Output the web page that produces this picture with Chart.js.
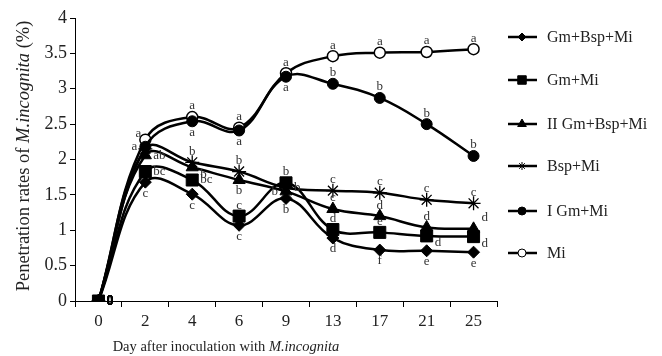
<!DOCTYPE html>
<html>
<head>
<meta charset="utf-8">
<script src="https://cdn.jsdelivr.net/npm/chart.js@4/dist/chart.umd.min.js"></script>
<style>
html,body{margin:0;padding:0;background:#fff;}
#wrap{width:662px;height:356px;position:relative;}
</style>
</head>
<body>
<div id="wrap"><canvas id="c" width="662" height="356"></canvas></div>
<script>
// ---- data ----
const days = ['0','2','4','6','9','13','17','21','25'];
const seriesNames = ['Gm+Bsp+Mi','Gm+Mi','II Gm+Bsp+Mi','Bsp+Mi','I Gm+Mi','Mi'];
const gmBspMi   = [0, 1.68, 1.51, 1.07, 1.45, 0.89, 0.72, 0.71, 0.69];
const gmMi      = [0, 1.83, 1.71, 1.20, 1.67, 1.01, 0.97, 0.92, 0.91];
const iiGmBspMi = [0, 2.06, 1.89, 1.71, 1.55, 1.30, 1.20, 1.04, 1.02];
const bspMi     = [0, 2.15, 1.96, 1.83, 1.60, 1.56, 1.53, 1.43, 1.38];
const iGmMi     = [0, 2.18, 2.54, 2.41, 3.17, 3.07, 2.87, 2.50, 2.05];
const mi        = [0, 2.28, 2.60, 2.45, 3.22, 3.46, 3.51, 3.52, 3.56];
const yTicks    = [0, 0.5, 1, 1.5, 2, 2.5, 3, 3.5, 4];
const yTickLabels = ['0','0.5','1','1.5','2','2.5','3','3.5','4'];
// significance letters
const lettersGmBspMi   = ['0','c','c','c','b','d','f','e','e'];
const lettersGmMi      = ['0','bc','bc','c','b','d','e','d','d'];
const lettersIIGmBspMi = ['0','ab','b','b','b','c','d','d','d'];
const lettersBspMi     = ['0','','b','b','b','c','c','c','c'];
const lettersIGmMi     = ['0','a','a','a','a','b','b','b','b'];
const lettersMi        = ['0','a','a','a','a','a','a','a','a'];

// ---- styling / placement (not data) ----
const placeGmBspMi   = ['r','b','b','b','b','b','b','b','b'];
const placeGmMi      = ['r','r','r','a','a','a','a','rb','rb'];
const placeIIGmBspMi = ['r','r','rb','b','l','a','a','a','ra'];
const placeBspMi     = ['r','a','a','a','r','a','a','a','a'];
const placeIGmMi     = ['r','l','b','b','b','a','a','a','a'];
const placeMi        = ['r','la','a','a','a','a','a','a','a'];

const SERIF = '"Liberation Serif","Times New Roman",serif';
const TXT = '#222';

function mk(label, data, style, radius, fill, letters, place, bw){
  return {
    label, data,
    borderColor:'#000', backgroundColor: fill,
    pointBorderColor:'#000', pointBackgroundColor: fill,
    pointStyle: style, pointRadius: radius, pointBorderWidth: bw,
    borderWidth: 2.5, tension: 0.4, fill:false,
    letters, place
  };
}
const datasets = [
  mk(seriesNames[0], gmBspMi, 'rectRot', 6, '#000', lettersGmBspMi, placeGmBspMi, 1),
  mk(seriesNames[1], gmMi, 'rect', 8.5, '#000', lettersGmMi, placeGmMi, 1),
  mk(seriesNames[2], iiGmBspMi, 'triangle', 7, '#000', lettersIIGmBspMi, placeIIGmBspMi, 1),
  mk(seriesNames[3], bspMi, 'star', 7, '#000', lettersBspMi, placeBspMi, 1.3),
  mk(seriesNames[4], iGmMi, 'circle', 5.5, '#000', lettersIGmMi, placeIGmMi, 1),
  mk(seriesNames[5], mi, 'circle', 5.5, '#fff', lettersMi, placeMi, 1.5)
];

function drawMixed(ctx, segs, size){
  let w = 0;
  segs.forEach(s=>{ ctx.font = (s.i?'italic ':'') + size + 'px ' + SERIF; s.w = ctx.measureText(s.t).width; w += s.w; });
  let x = -w/2;
  segs.forEach(s=>{ ctx.font = (s.i?'italic ':'') + size + 'px ' + SERIF; ctx.fillText(s.t, x, 0); x += s.w; });
}

const lettersPlugin = {
  id:'letters',
  afterDatasetsDraw(chart){
    const ctx = chart.ctx;
    ctx.save();
    ctx.textBaseline = 'middle';
    chart.data.datasets.forEach((ds, di)=>{
      const meta = chart.getDatasetMeta(di);
      meta.data.forEach((pt, i)=>{
        const t = ds.letters[i]; if(!t) return;
        const p = ds.place[i];
        let x = pt.x, y = pt.y, align='center';
        if(p==='a'){ y -= 11; }
        else if(p==='b'){ y += 11; }
        else if(p==='r'){ x += 8; align='left'; }
        else if(p==='l'){ x -= 8; align='right'; }
        else if(p==='rb'){ x += 8; y += 7; align='left'; }
        else if(p==='ra'){ x += 8; y -= 11; align='left'; }
        else if(p==='la'){ x -= 4; y -= 6; align='right'; }
        ctx.textAlign = align;
        if(t==='0'){ ctx.font = 'bold 14px ' + SERIF; ctx.fillStyle='#000'; }
        else { ctx.font = '13px ' + SERIF; ctx.fillStyle='#333'; }
        ctx.fillText(t, x, y);
      });
    });
    ctx.restore();
  }
};

const decorPlugin = {
  id:'decor',
  afterDraw(chart){
    const ctx = chart.ctx;
    ctx.save();
    ctx.fillStyle = TXT;
    ctx.textBaseline = 'middle';
    ctx.textAlign = 'left';
    // y title
    ctx.save();
    ctx.translate(24, 156);
    ctx.rotate(-Math.PI/2);
    drawMixed(ctx, [{t:'Penetration rates of ',i:false},{t:'M.incognita',i:true},{t:' (%)',i:false}], 18.5);
    ctx.restore();
    // x title
    ctx.save();
    ctx.translate(226, 347);
    drawMixed(ctx, [{t:'Day after inoculation with ',i:false},{t:'M.incognita',i:true}], 14.5);
    ctx.restore();
    // legend
    const rows = [37, 80, 124, 166, 211, 253];
    chart.data.datasets.forEach((ds, i)=>{
      const y = rows[i];
      ctx.strokeStyle = '#000';
      ctx.lineWidth = 2.5;
      ctx.beginPath(); ctx.moveTo(508, y); ctx.lineTo(537, y); ctx.stroke();
      ctx.fillStyle = ds.pointBackgroundColor;
      ctx.strokeStyle = '#000';
      ctx.lineWidth = 1;
      const r = ds.pointStyle==='rect' ? 6 : (ds.pointStyle==='triangle' ? 5 : 4);
      Chart.helpers.drawPoint(ctx, {pointStyle: ds.pointStyle, radius: r, rotation: 0, borderWidth: 1}, 522, y);
      ctx.fillStyle = TXT;
      ctx.font = '16px ' + SERIF;
      ctx.textAlign = 'left';
      ctx.fillText(ds.label, 547, y + 1);
    });
    ctx.restore();
  }
};

new Chart(document.getElementById('c'), {
  type:'line',
  data:{ labels: days, datasets },
  options:{
    responsive:false,
    animation:false,
    events:[],
    layout:{ padding:{ left:0, top:18, right:165, bottom:0 } },
    plugins:{ legend:{display:false}, tooltip:{enabled:false}, title:{display:false} },
    scales:{
      x:{
        type:'category',
        offset:true,
        grid:{ offset:true, drawOnChartArea:false, drawTicks:true, tickLength:6, color:'#000' },
        border:{ display:true, color:'#000', width:1 },
        ticks:{ color:TXT, font:{ family:SERIF, size:17 }, padding:4, maxRotation:0 },
        afterFit(s){ s.height = 55; }
      },
      y:{
        min:0, max:4,
        afterBuildTicks(s){ s.ticks = yTicks.map(v=>({value:v})); },
        grid:{ drawOnChartArea:false, drawTicks:true, tickLength:5, color:'#000' },
        border:{ display:true, color:'#000', width:1 },
        ticks:{ color:TXT, font:{ family:SERIF, size:18 }, padding:3,
          callback(v){ const k = yTicks.indexOf(v); return k>=0 ? yTickLabels[k] : ''; } },
        afterFit(s){ s.width = 75; }
      }
    }
  },
  plugins:[lettersPlugin, decorPlugin]
});
</script>
</body>
</html>
